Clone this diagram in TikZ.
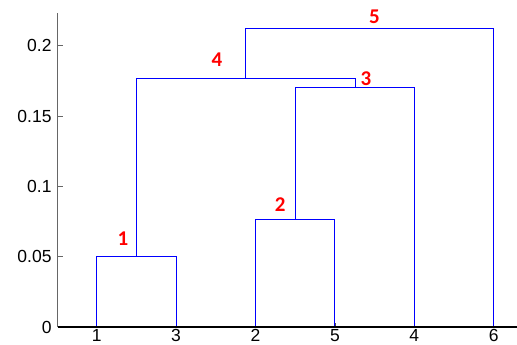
\documentclass[tikz,border=0pt]{standalone}
\usepackage{fontspec}
\setmainfont{Liberation Sans}
\newfontfamily\labfont{Carlito}
\begin{document}
\begin{tikzpicture}[x=1pt,y=-1pt,
  link/.style={draw=blue, line width=0.9pt},
  ticklab/.style={font=\fontsize{17.5}{18}\selectfont, text=black, inner sep=0pt},
  clab/.style={font=\labfont\bfseries\fontsize{21}{22}\selectfont, text=red, inner sep=0pt},
  axisy/.style={draw=black!60, line width=1pt},
  axisx/.style={draw=black, line width=1.1pt},
  tick/.style={draw=black!70, line width=0.8pt}]
\useasboundingbox (0,0) rectangle (517,345);
% leaves
\coordinate (L1) at (96.7,327);
\coordinate (L3) at (176.1,327);
\coordinate (L2) at (255.5,327);
\coordinate (L5) at (334.9,327);
\coordinate (L4) at (414.3,327);
\coordinate (L6) at (493.7,327);
% merges
\coordinate (m1) at (136.4,256.7);
\coordinate (m2) at (295.2,219.7);
\coordinate (m3) at (355.0,87.3);
\coordinate (m4) at (245.7,78.3);
\coordinate (m5) at (369.7,28.3);
% axes
\coordinate (O) at (57.7,327);
\coordinate (Ytop) at (57.7,12.7);
\coordinate (Xend) at (517,327);
\draw[axisy] (O) -- (Ytop);
% y ticks
\foreach \v/\t in {0/0, 0.05/0.05, 0.1/0.1, 0.15/0.15, 0.2/0.2}{
  \coordinate (yt) at (57.7,{327-1406.5*\v});
  \draw[tick, draw=black!60] (yt) -- ++(5.5,0);
  \node[ticklab, anchor=east] at ([xshift=-6pt]yt) {\t};
}
% x ticks and labels
\foreach \n in {1,3,2,5,4,6}{
  \draw[tick] (L\n) -- ++(0,-4);
  \node[ticklab, anchor=north] at ([yshift=-2.5pt]L\n) {\n};
}
% dendrogram links
\draw[link] (L1) |- (m1) -| (L3);
\draw[link] (L2) |- (m2) -| (L5);
\draw[link] (m2) |- (m3) -| (L4);
\draw[link] (m1) |- (m4) -| (m3);
\draw[link] (m4) |- (m5) -| (L6);
\draw[axisx] (O) -- (Xend);
% cluster labels
\node[clab] (c1) at (123,238.3) {1};
\node[clab] (c2) at (280.3,205) {2};
\node[clab] (c3) at (366,78.8) {3};
\node[clab] (c4) at (217,59.5) {4};
\node[clab] (c5) at (374.5,17) {5};
\end{tikzpicture}
\end{document}
